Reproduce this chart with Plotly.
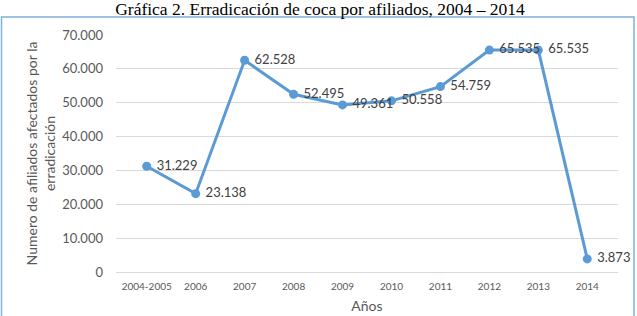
import plotly.graph_objects as go

categories = ["2004-2005", "2006", "2007", "2008", "2009", "2010", "2011", "2012", "2013", "2014"]
afiliados = [31229, 23138, 62528, 52495, 49361, 50558, 54759, 65535, 65535, 3873]
y_ticks = [0, 10000, 20000, 30000, 40000, 50000, 60000, 70000]


def fmt(v):
    return f"{v:,}".replace(",", ".")


labels = [fmt(v) for v in afiliados]
y_tick_text = [fmt(v) for v in y_ticks]

L, R, T, B = 116, 19, 35, 44
W, H = 637, 316
pw, ph = W - L - R, H - T - B

fig = go.Figure()
fig.add_trace(go.Scatter(
    x=categories, y=afiliados, mode="lines+markers+text",
    line=dict(color="#5b9bd5", width=3),
    marker=dict(color="#5b9bd5", size=9),
    text=labels, texttemplate="\u00a0%{text}", textposition="middle right",
    textfont=dict(family="Lato, Open Sans, sans-serif", size=13, color="#404040"),
    cliponaxis=False, hoverinfo="x+y",
))

fig.update_layout(
    width=W, height=H,
    margin=dict(l=L, r=R, t=T, b=B, autoexpand=False),
    paper_bgcolor="white", plot_bgcolor="white",
    showlegend=False,
    title=dict(text="Gráfica 2. Erradicación de coca por afiliados, 2004 – 2014",
               x=(320 / W), xanchor="center", y=1 - 9 / H, yanchor="middle",
               font=dict(family="Liberation Serif, serif", size=17.5, color="#000000")),
    xaxis=dict(
        type="category", showgrid=False, zeroline=False, showline=False, automargin=False,
        ticks="", ticklabelstandoff=7,
        tickfont=dict(family="Lato, Open Sans, sans-serif", size=10, color="#595959"),
        title=dict(text="Años", font=dict(family="Lato, Open Sans, sans-serif", size=14, color="#595959"), standoff=10),
    ),
    yaxis=dict(
        range=[0, 70000], tickvals=y_ticks, ticktext=y_tick_text, automargin=False,
        showgrid=True, gridcolor="#d9d9d9", gridwidth=1,
        zeroline=True, zerolinecolor="#d9d9d9", zerolinewidth=1,
        showline=False, ticks="", ticklabelstandoff=12,
        tickfont=dict(family="Lato, Open Sans, sans-serif", size=13, color="#595959"),
        title=dict(text="Numero de afiliados afectados por la<br>erradicación",
                   font=dict(family="Lato, Open Sans, sans-serif", size=14, color="#595959"), standoff=3),
    ),
    shapes=[dict(type="rect", xref="paper", yref="paper",
                 x0=(1.5 - L) / pw, x1=(634 - L) / pw,
                 y0=(H - B - 330) / ph, y1=(H - B - 17) / ph,
                 line=dict(color="#7fb0de", width=1.5), fillcolor="rgba(0,0,0,0)", layer="above")],
)

fig.write_html("out.html", config={"displayModeBar": False},
               post_script="document.body.style.margin='0';document.body.style.overflow='hidden';")
